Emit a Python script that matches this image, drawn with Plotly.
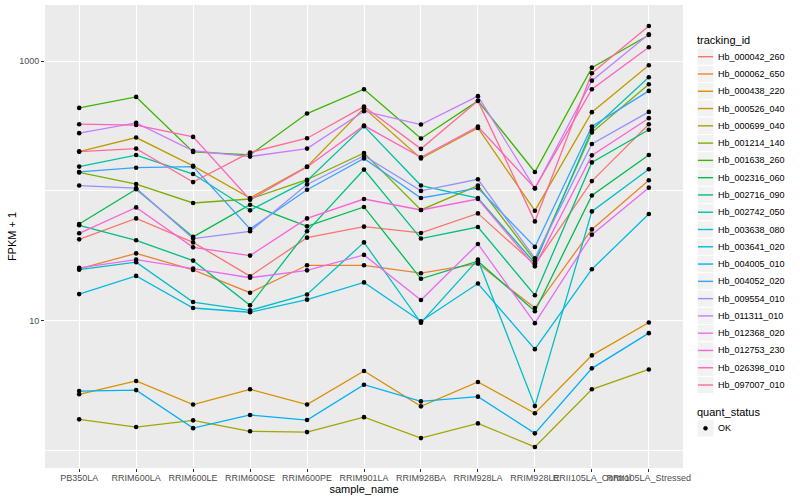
import math
import plotly.graph_objects as go

# ---------------- data (FPKM + 1) ----------------
samples = ["PB350LA", "RRIM600LA", "RRIM600LE", "RRIM600SE", "RRIM600PE",
           "RRIM901LA", "RRIM928BA", "RRIM928LA", "RRIM928LE",
           "RRII105LA_Control", "RRII105LA_Stressed"]

tracking_ids = ["Hb_000042_260", "Hb_000062_650", "Hb_000438_220", "Hb_000526_040",
                "Hb_000699_040", "Hb_001214_140", "Hb_001638_260", "Hb_002316_060",
                "Hb_002716_090", "Hb_002742_050", "Hb_003638_080", "Hb_003641_020",
                "Hb_004005_010", "Hb_004052_020", "Hb_009554_010", "Hb_011311_010",
                "Hb_012368_020", "Hb_012753_230", "Hb_026398_010", "Hb_097007_010"]

hb_000042_260 = [42.3, 61.4, 40.1, 22.0, 43.6, 53.0, 47.4, 67.1, 27.0, 119, 327]
hb_000062_650 = [25.0, 33.0, 24.6, 16.4, 26.7, 26.7, 23.2, 27.5, 12.5, 50.5, 121]
hb_000438_220 = [2.70, 3.42, 2.25, 2.95, 2.25, 4.08, 2.18, 3.36, 1.93, 5.39, 9.67]
hb_000526_040 = [201, 258, 156, 88.2, 154, 435, 178, 306, 70.4, 405, 932]
hb_000699_040 = [1.73, 1.51, 1.70, 1.40, 1.38, 1.80, 1.24, 1.61, 1.06, 2.95, 4.20]
hb_001214_140 = [139, 113, 80.7, 86.6, 122, 196, 71.3, 110, 29.0, 282, 665]
hb_001638_260 = [437, 531, 200, 190, 395, 609, 254, 495, 140, 893, 1594]
hb_002316_060 = [55.6, 103, 44.2, 78.3, 53.3, 75.2, 21.0, 28.7, 11.8, 92.3, 189]
hb_002716_090 = [54.3, 41.6, 29.0, 13.1, 48.8, 146, 42.9, 52.7, 15.7, 166, 296]
hb_002742_050 = [154, 189, 135, 70.8, 120, 316, 110, 88.2, 27.7, 296, 753]
hb_003638_080 = [24.7, 28.2, 13.9, 12.0, 15.9, 40.1, 9.62, 29.5, 2.19, 69.5, 147]
hb_003641_020 = [16.0, 22.1, 12.5, 11.6, 14.5, 19.7, 9.89, 19.3, 6.02, 24.9, 66.4]
hb_004005_010 = [2.86, 2.91, 1.48, 1.87, 1.71, 3.20, 2.38, 2.59, 1.35, 4.28, 8.00]
hb_004052_020 = [140, 151, 154, 50.9, 102, 178, 88.2, 105, 37.0, 314, 591]
hb_009554_010 = [110, 105, 42.9, 48.8, 112, 187, 100, 123, 30.2, 230, 407]
hb_011311_010 = [279, 335, 204, 184, 212, 412, 325, 538, 104.5, 709, 1614]
hb_012368_020 = [25.5, 29.5, 25.2, 21.4, 24.4, 32.1, 14.4, 39.0, 9.55, 46.0, 106]
hb_012753_230 = [47.1, 74.6, 36.7, 31.7, 61.4, 86.6, 71.3, 86.6, 26.2, 188, 364]
hb_026398_010 = [327, 322, 261, 85.5, 153, 319, 182, 314, 105, 609, 1282]
hb_097007_010 = [201, 212, 117, 198, 255, 447, 211, 495, 58.2, 809, 1869]

series_values = [hb_000042_260, hb_000062_650, hb_000438_220, hb_000526_040,
                 hb_000699_040, hb_001214_140, hb_001638_260, hb_002316_060,
                 hb_002716_090, hb_002742_050, hb_003638_080, hb_003641_020,
                 hb_004005_010, hb_004052_020, hb_009554_010, hb_011311_010,
                 hb_012368_020, hb_012753_230, hb_026398_010, hb_097007_010]

quant_status = ["OK"]
y_tick_values = [10, 1000]
y_minor_values = [1, 100]


# ---------------- ggplot2 default hue palette ----------------
def hcl_hex(h, c=100.0, l=65.0):
    hr = math.radians(h)
    u, v = c * math.cos(hr), c * math.sin(hr)
    xn, yn, zn = 95.047, 100.0, 108.883
    Y = yn * ((l + 16) / 116) ** 3 if l > 7.999592 else yn * l / 903.3
    t = xn + yn + zn
    x, y = xn / t, yn / t
    un = 2 * x / (6 * y - x + 1.5)
    vn = 4.5 * y / (6 * y - x + 1.5)
    uu = u / (13 * l) + un
    vv = v / (13 * l) + vn
    X = 9.0 * Y * uu / (4 * vv)
    Z = -X / 3 - 5 * Y + 3 * Y / vv
    X, Y, Z = X / 100, Y / 100, Z / 100
    rgb = [3.240479 * X - 1.537150 * Y - 0.498535 * Z,
           -0.969256 * X + 1.875992 * Y + 0.041556 * Z,
           0.055648 * X - 0.204043 * Y + 1.057311 * Z]
    out = []
    for ch in rgb:
        ch = 12.92 * ch if ch <= 0.0031308 else 1.055 * ch ** (1 / 2.4) - 0.055
        out.append(int(round(min(max(ch, 0.0), 1.0) * 255)))
    return "#%02X%02X%02X" % tuple(out)


n = len(tracking_ids)
colors = [hcl_hex(15 + 360.0 * i / n) for i in range(n)]

# ---------------- figure geometry ----------------
W, H = 800, 500
ML, MR, MT, MB = 45, 117, 5, 32
PW, PH = W - ML - MR, H - MT - MB


def px_x(p):
    return (p - ML) / PW


def px_y(p):
    return (H - MB - p) / PH


all_vals = [v for s in series_values for v in s]
lo, hi = math.log10(min(all_vals)), math.log10(max(all_vals))
pad = 0.05 * (hi - lo)

fig = go.Figure()

for name, vals, col in zip(tracking_ids, series_values, colors):
    fig.add_trace(go.Scatter(x=samples, y=vals, mode="lines", name=name,
                             line=dict(color=col, width=1.3), showlegend=False))

fig.add_trace(go.Scatter(x=samples * n, y=all_vals, mode="markers", name=quant_status[0],
                         marker=dict(color="black", size=4.6), showlegend=False))

fig.update_layout(
    width=W, height=H,
    margin=dict(l=ML, r=MR, t=MT, b=MB, pad=0),
    paper_bgcolor="white", plot_bgcolor="#EBEBEB",
    font=dict(family="Liberation Sans, Arial, sans-serif", size=9, color="#4D4D4D"),
    showlegend=False,
)

fig.update_xaxes(
    type="category", categoryorder="array", categoryarray=samples,
    range=[-0.6, len(samples) - 1 + 0.6],
    showgrid=True, gridcolor="white", gridwidth=1.4, zeroline=False, showline=False,
    ticks="outside", ticklen=3, tickwidth=1, tickcolor="#333333", tickangle=0,
    ticklabelstandoff=-2,
    tickfont=dict(size=9, color="#4D4D4D"), automargin=False,
    title=dict(text="sample_name", font=dict(size=11, color="black"), standoff=1),
)

fig.update_yaxes(
    type="log", range=[lo - pad, hi + pad],
    tickmode="array", tickvals=y_tick_values, ticktext=[str(v) for v in y_tick_values],
    showgrid=True, gridcolor="white", gridwidth=1.4, zeroline=False, showline=False,
    minor=dict(tickmode="array", tickvals=y_minor_values, showgrid=True,
               gridcolor="white", gridwidth=0.7, ticks=""),
    ticks="outside", ticklen=3, tickwidth=1, tickcolor="#333333",
    tickfont=dict(size=9, color="#4D4D4D"), automargin=False,
    title=dict(text="FPKM + 1", font=dict(size=11, color="black"), standoff=0),
)

# ---------------- ggplot-style legends ----------------
shapes, annos = [], []
KX0, KX1 = 697, 714
first_y, step = 56.7, 17.28
annos.append(dict(x=px_x(695), y=px_y(40.5), xref="paper", yref="paper", text="tracking_id",
                  showarrow=False, xanchor="left", yanchor="middle",
                  font=dict(size=11, color="black")))
for i, (name, col) in enumerate(zip(tracking_ids, colors)):
    yc = first_y + step * i
    shapes.append(dict(type="rect", xref="paper", yref="paper",
                       x0=px_x(KX0), x1=px_x(KX1), y0=px_y(yc + step / 2), y1=px_y(yc - step / 2),
                       fillcolor="#F2F2F2", line=dict(color="white", width=1), layer="above"))
    shapes.append(dict(type="line", xref="paper", yref="paper",
                       x0=px_x(KX0 + 1), x1=px_x(KX1 - 1), y0=px_y(yc), y1=px_y(yc),
                       line=dict(color=col, width=1.4), layer="above"))
    annos.append(dict(x=px_x(716), y=px_y(yc), xref="paper", yref="paper", text=name,
                      showarrow=False, xanchor="left", yanchor="middle",
                      font=dict(size=9, color="black")))

annos.append(dict(x=px_x(695), y=px_y(411.5), xref="paper", yref="paper", text="quant_status",
                  showarrow=False, xanchor="left", yanchor="middle",
                  font=dict(size=11, color="black")))
yc = 428.3
shapes.append(dict(type="rect", xref="paper", yref="paper",
                   x0=px_x(KX0), x1=px_x(KX1), y0=px_y(yc + step / 2), y1=px_y(yc - step / 2),
                   fillcolor="#F2F2F2", line=dict(color="white", width=1), layer="above"))
shapes.append(dict(type="circle", xref="paper", yref="paper",
                   x0=px_x(703.5), x1=px_x(707.5), y0=px_y(yc + 2), y1=px_y(yc - 2),
                   fillcolor="black", line=dict(color="black", width=0.5), layer="above"))
annos.append(dict(x=px_x(716), y=px_y(yc), xref="paper", yref="paper", text=quant_status[0],
                  showarrow=False, xanchor="left", yanchor="middle",
                  font=dict(size=9, color="black")))

fig.update_layout(shapes=shapes, annotations=annos)

fig.write_html("out.html",
               config={"displayModeBar": False},
               post_script="document.body.style.margin='0px';"
                           "document.body.style.overflow='hidden';")
